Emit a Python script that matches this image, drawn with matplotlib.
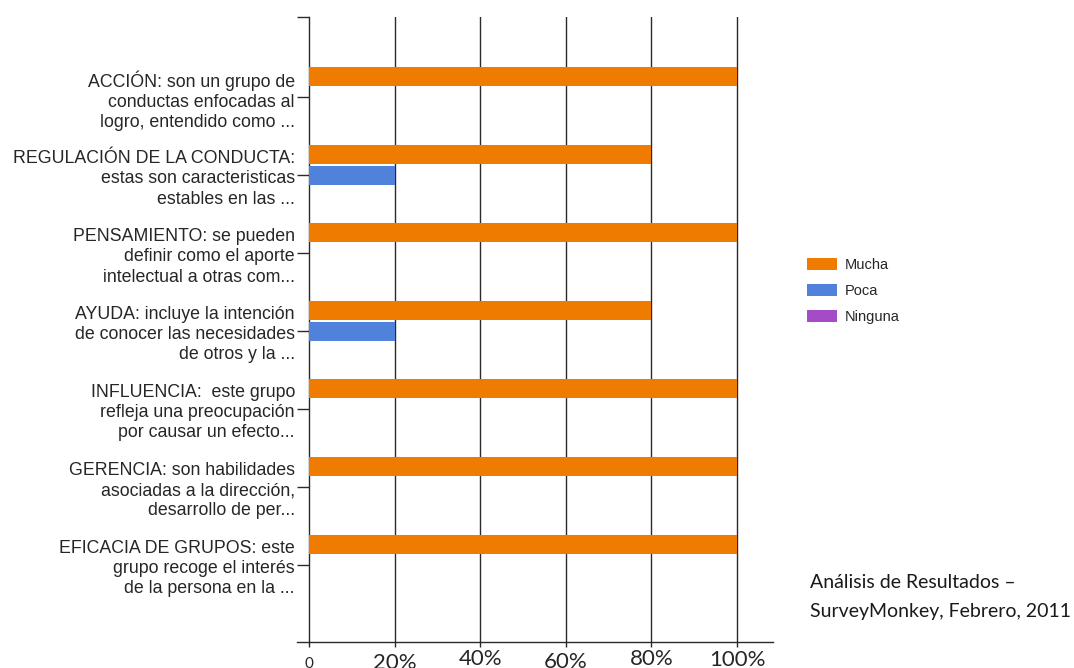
import numpy as np
import matplotlib
matplotlib.use("Agg")
import matplotlib.pyplot as plt
from matplotlib.lines import Line2D

categories = [
    "ACCIÓN: son un grupo de\nconductas enfocadas al\nlogro, entendido como ...",
    "REGULACIÓN DE LA CONDUCTA:\nestas son caracteristicas\nestables en las ...",
    "PENSAMIENTO: se pueden\ndefinir como el aporte\nintelectual a otras com...",
    "AYUDA: incluye la intención\nde conocer las necesidades\nde otros y la ...",
    "INFLUENCIA:  este grupo\nrefleja una preocupación\npor causar un efecto...",
    "GERENCIA: son habilidades\nasociadas a la dirección,\ndesarrollo de per...",
    "EFICACIA DE GRUPOS: este\ngrupo recoge el interés\nde la persona en la ...",
]
series_names = ["Mucha", "Poca", "Ninguna"]
mucha = [100, 80, 100, 80, 100, 100, 100]
poca = [0, 20, 0, 20, 0, 0, 0]
ninguna = [0, 0, 0, 0, 0, 0, 0]
x_ticks = [0, 20, 40, 60, 80, 100]
x_tick_labels = ["0", "20%", "40%", "60%", "80%", "100%"]
note_lines = ["Análisis de Resultados –", "SurveyMonkey, Febrero, 2011"]

colors = ["#EF7B00", "#5082DC", "#A44BC8"]
ink = "#262626"

W, H = 1074, 668
fig = plt.figure(figsize=(W / 100, H / 100), dpi=100)
ax = fig.add_axes([309 / W, 26 / H, (773 - 309) / W, (642 - 17) / H])

y = np.arange(len(categories))
bar_h = 0.245
offsets = [-0.262, 0.0, 0.262]
for vals, off, col, name in zip([mucha, poca, ninguna], offsets, colors, series_names):
    ax.barh(y + off, vals, height=bar_h, color=col, label=name, zorder=3,
            edgecolor="none")

y_top = -1.03
ax.set_ylim(6.99, y_top)
ax.set_xlim(0, 108.4)

# vertical grid
for v in x_ticks[1:]:
    ax.axvline(v, color="#2a2a2a", lw=1.0, zorder=1)

for s in ["top", "right"]:
    ax.spines[s].set_visible(False)
for s in ["left", "bottom"]:
    ax.spines[s].set_color("#2a2a2a")
    ax.spines[s].set_linewidth(1.0)

# bottom axis line runs a bit past the y axis
ax.add_line(Line2D([-12 / 464, 0], [0, 0], transform=ax.transAxes,
                   color="#2a2a2a", lw=1.0, clip_on=False))

ax.set_yticks([y_top] + list(y), [""] + categories)
ax.tick_params(axis="y", direction="out", length=8.6, width=1.0, pad=1.5,
               color="#2a2a2a")
for lab in ax.get_yticklabels():
    lab.set_fontfamily("Liberation Sans")
    lab.set_fontsize(12.8)
    lab.set_color(ink)
    lab.set_linespacing(1.25)
    lab.set_multialignment("right")

ax.set_xticks(x_ticks, [""] * len(x_ticks))
ax.tick_params(axis="x", direction="out", length=3.6, width=1.0,
               color="#2a2a2a")

# percentage labels sit a little unevenly under the axis
label_drop = [10.8, 8.0, 5.2, 7.3, 5.2, 5.9]
label_size = [11, 16, 16, 16, 16, 16]
for v, txt, d, fs in zip(x_ticks, x_tick_labels, label_drop, label_size):
    ax.annotate(txt, xy=(v, 0), xycoords=("data", "axes fraction"),
                xytext=(0, -d), textcoords="offset points",
                ha="center", va="top", fontsize=fs, family="Lato",
                color=ink, annotation_clip=False)

fig.legend(loc="upper left", bbox_to_anchor=(807 / W, 1 - 258 / H),
           frameon=False, prop={"family": "Liberation Sans", "size": 10.5},
           handlelength=2.05, handleheight=0.82, handletextpad=0.55,
           labelspacing=0.83, borderpad=0, borderaxespad=0,
           labelcolor=ink)

fig.text(810 / W, 1 - 582 / H, note_lines[0], ha="left", va="center",
         family="Lato", fontsize=14, color="#1a1a1a")
fig.text(810 / W, 1 - 612 / H, note_lines[1], ha="left", va="center",
         family="Lato", fontsize=14, color="#1a1a1a")

fig.savefig("out.png", dpi=100, facecolor="white")
